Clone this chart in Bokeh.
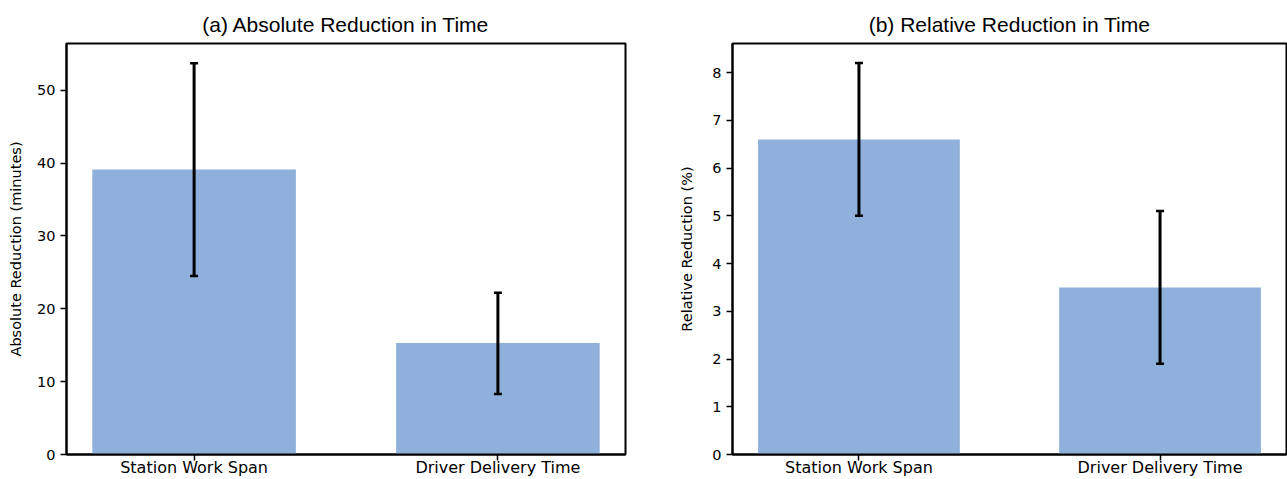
from bokeh.plotting import figure
from bokeh.layouts import row
from bokeh.models import ColumnDataSource, Whisker, TeeHead, FixedTicker, Range1d
from bokeh.embed import file_html
from bokeh.resources import INLINE

categories = ["Station Work Span", "Driver Delivery Time"]
abs_values = [39.1, 15.3]
abs_upper = [53.7, 22.2]
abs_lower = [24.5, 8.3]
rel_values = [6.6, 3.5]
rel_upper = [8.2, 5.1]
rel_lower = [5.0, 1.9]
abs_ticks = [0, 10, 20, 30, 40, 50]
rel_ticks = [0, 1, 2, 3, 4, 5, 6, 7, 8]

BAR = "#8fb0db"
FONT = "DejaVu Sans"


def make(title, ylabel, vals, up, lo, ymax, yticks, width, bl, br, lstand):
    xs = list(range(len(categories)))
    src = ColumnDataSource(dict(x=xs, top=vals, upper=up, lower=lo))
    p = figure(width=width, height=479, output_backend="svg", toolbar_location=None,
               x_range=Range1d(-0.42, 1.42), y_range=Range1d(0, ymax),
               min_border_left=bl, min_border_right=br, min_border_top=43,
               min_border_bottom=22)
    p.vbar(x="x", top="top", width=0.67, source=src, color=BAR, line_color=None)
    w = Whisker(base="x", upper="upper", lower="lower", source=src,
                line_color="black", line_width=3, level="overlay",
                upper_head=TeeHead(size=8, line_width=2.5, line_color="black"),
                lower_head=TeeHead(size=8, line_width=2.5, line_color="black"))
    p.add_layout(w)
    p.title.text = title
    p.title.align = "center"
    p.title.text_font = "Liberation Sans"
    p.title.text_font_size = "21px"
    p.title.text_font_style = "normal"
    p.title.text_color = "black"
    p.title.standoff = 15
    p.grid.visible = False
    p.outline_line_color = "black"
    p.outline_line_width = 2
    p.outline_line_alpha = 1
    p.xaxis.ticker = FixedTicker(ticks=xs)
    p.xaxis.major_label_overrides = {i: c for i, c in enumerate(categories)}
    p.yaxis.ticker = FixedTicker(ticks=yticks)
    for ax in (p.xaxis[0], p.yaxis[0]):
        ax.axis_line_color = "black"
        ax.axis_line_width = 2
        ax.major_tick_line_color = "black"
        ax.major_tick_line_width = 1.5
        ax.major_tick_out = 6
        ax.major_tick_in = 0
        ax.minor_tick_line_color = None
        ax.major_label_text_font = FONT
        ax.major_label_text_color = "black"
    p.xaxis.major_label_text_font_size = "16px"
    p.xaxis.major_label_standoff = -3
    p.yaxis.major_label_text_font_size = "14.5px"
    p.yaxis.major_label_standoff = 5
    p.yaxis.axis_label = ylabel
    p.yaxis.axis_label_text_font = FONT
    p.yaxis.axis_label_text_font_size = "14.5px"
    p.yaxis.axis_label_text_font_style = "normal"
    p.yaxis.axis_label_text_color = "black"
    p.yaxis.axis_label_standoff = lstand
    return p


p1 = make("(a) Absolute Reduction in Time", "Absolute Reduction (minutes)",
          abs_values, abs_upper, abs_lower, 56.4, abs_ticks,
          674, 66, 49, 10)
p2 = make("(b) Relative Reduction in Time", "Relative Reduction (%)",
          rel_values, rel_upper, rel_lower, 8.61, rel_ticks,
          613, 58, 1, 14)

layout = row(p1, p2)
open("out.html", "w").write(file_html(layout, INLINE))
